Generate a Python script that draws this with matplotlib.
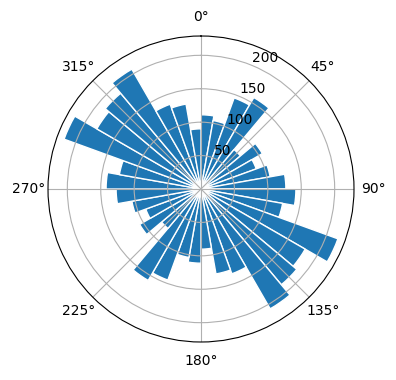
import numpy as np
import matplotlib
matplotlib.use("Agg")
import matplotlib.pyplot as plt

# bin start angles (degrees), 10 degree bins
bin_starts = np.arange(0, 360, 10)

# counts for 0..170 degrees; the chart repeats them for 180..350
half_counts = [111, 104, 145, 158, 77, 106, 88, 105, 127,
               142, 124, 218, 180, 187, 207, 135, 129, 90]
counts = half_counts + half_counts

fig = plt.figure(figsize=(3.96, 3.8), dpi=100)
ax = fig.add_axes([48 / 396, 38 / 380, 306 / 396, 306 / 380], projection="polar")
ax.set_theta_zero_location("N")
ax.set_theta_direction(-1)

theta = np.deg2rad(bin_starts + 5)
ax.bar(theta, counts, width=np.deg2rad(10), color="C0", edgecolor="white", linewidth=1)

fig.savefig("out.png", dpi=100)
